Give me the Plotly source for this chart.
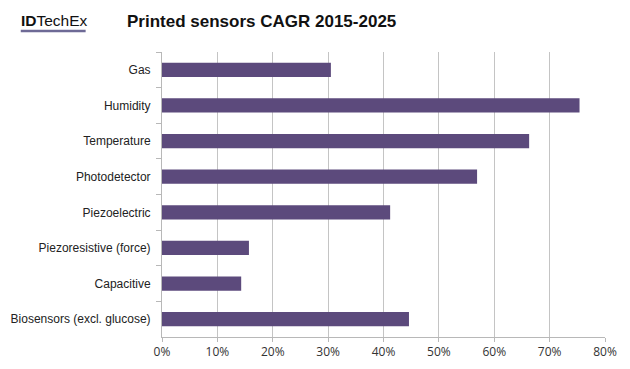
import plotly.graph_objects as go

categories = ["Gas", "Humidity", "Temperature", "Photodetector", "Piezoelectric",
              "Piezoresistive (force)", "Capacitive", "Biosensors (excl. glucose)"]
cagr = [0.305, 0.754, 0.663, 0.569, 0.412, 0.157, 0.143, 0.446]
tick_vals = [0, 0.1, 0.2, 0.3, 0.4, 0.5, 0.6, 0.7, 0.8]

OFF = 8  # page body margin offset
L, R, T, B = 161.5 - OFF, 630 - 605.3 + OFF, 52 - OFF, 369 - 336.7 + OFF
PW, PH = 630 - L - R, 369 - T - B

fig = go.Figure(go.Bar(
    y=categories, x=cagr, orientation="h",
    marker=dict(color="#5c4a7c", line=dict(width=0)),
))

fig.update_layout(
    width=630, height=369,
    margin=dict(l=L, r=R, t=T, b=B, autoexpand=False),
    paper_bgcolor="white", plot_bgcolor="white",
    bargap=0.6, showlegend=False,
    font=dict(family="Liberation Sans, Arial, sans-serif", color="#222"),
    xaxis=dict(range=[0, 0.8], tickvals=tick_vals, tickformat=".0%",
               showgrid=True, gridcolor="#c4c4c4", gridwidth=1,
               showline=True, linecolor="#b8b8b8", linewidth=1,
               ticks="outside", ticklen=4, tickcolor="#b8b8b8",
               tickfont=dict(size=12, family="Open Sans, Liberation Sans, sans-serif", color="#333"),
               zeroline=False, fixedrange=True, automargin=False),
    yaxis=dict(autorange="reversed", showline=True, linecolor="#b8b8b8", linewidth=1,
               ticks="outside", ticklen=5, tickcolor="#b8b8b8", tickson="boundaries",
               ticklabelstandoff=8,
               tickfont=dict(size=12, family="Liberation Sans, Arial, sans-serif", color="#222"),
               showgrid=False, fixedrange=True, automargin=False),
)

def px_x(x):
    return (x - OFF - L) / PW

def px_y(y):
    return 1 + (T - (y - OFF)) / PH

# Title
fig.add_annotation(text="<b>Printed sensors CAGR 2015-2025</b>", xref="paper", yref="paper",
                   x=px_x(261), y=px_y(22), xanchor="center", yanchor="middle",
                   showarrow=False,
                   font=dict(size=17, family="Liberation Sans, Arial, sans-serif", color="#111"))
# Logo
fig.add_annotation(text="<b>ID</b>TechEx", xref="paper", yref="paper",
                   x=px_x(18), y=px_y(21), xanchor="left", yanchor="middle",
                   showarrow=False,
                   font=dict(size=15.5, family="Liberation Sans, Arial, sans-serif", color="#111"))
fig.add_shape(type="line", xref="paper", yref="paper",
              x0=px_x(20), x1=px_x(85), y0=px_y(31), y1=px_y(31),
              line=dict(color="#6e6a96", width=2.5))

fig.write_html("out.html")
